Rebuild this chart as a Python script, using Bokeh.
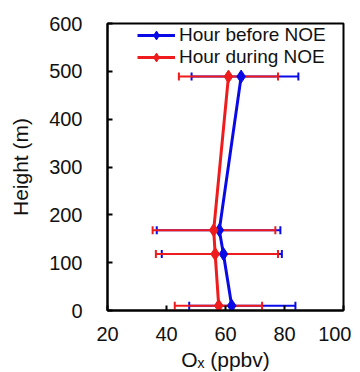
from bokeh.plotting import figure
from bokeh.models import ColumnDataSource, Whisker, TeeHead, Range1d, FixedTicker, Legend, LegendItem
from bokeh.embed import file_html
from bokeh.resources import INLINE

# Data
heights = [10, 118, 168, 489]
ox_before = [62.1, 59.3, 57.9, 65.3]
before_lo = [47.7, 38.4, 36.7, 48.5]
before_hi = [83.7, 79.1, 78.6, 84.7]
ox_during = [57.7, 56.5, 56.0, 61.0]
during_lo = [42.8, 36.4, 35.3, 44.2]
during_hi = [72.4, 77.8, 76.9, 77.8]
x_ticks = [20, 40, 60, 80, 100]
y_ticks = [0, 100, 200, 300, 400, 500, 600]

BLUE = "#0a0ae6"
RED = "#ee1c1c"
FONT = "Liberation Sans"

p = figure(frame_width=236, frame_height=287, output_backend="svg", toolbar_location=None,
           x_range=Range1d(20, 100), y_range=Range1d(0, 600),
           min_border_left=107, min_border_top=23, min_border_right=8, min_border_bottom=54)
p.grid.visible = False
p.outline_line_color = "black"
p.outline_line_width = 2
p.background_fill_color = "white"
p.border_fill_color = "white"

src_b = ColumnDataSource(dict(y=heights, x=ox_before, lo=before_lo, hi=before_hi))
src_d = ColumnDataSource(dict(y=heights, x=ox_during, lo=during_lo, hi=during_hi))

for src, col in ((src_b, BLUE), (src_d, RED)):
    w = Whisker(source=src, base="y", lower="lo", upper="hi", dimension="width",
                line_color=col, line_width=2, level="underlay",
                lower_head=TeeHead(size=8, line_color=col, line_width=2),
                upper_head=TeeHead(size=8, line_color=col, line_width=2))
    p.add_layout(w)

lb = p.line("x", "y", source=src_b, line_color=BLUE, line_width=3)
mb = p.scatter("x", "y", source=src_b, marker="diamond", size=13, fill_color=BLUE, line_color=BLUE)
ld = p.line("x", "y", source=src_d, line_color=RED, line_width=3)
md = p.scatter("x", "y", source=src_d, marker="diamond", size=13, fill_color=RED, line_color=RED)

legend = Legend(items=[LegendItem(label="Hour before NOE", renderers=[lb, mb]),
                       LegendItem(label="Hour during NOE", renderers=[ld, md])],
                location=(30, 242), border_line_color=None, background_fill_alpha=0,
                padding=0, margin=0, spacing=0, label_height=22, glyph_height=22,
                glyph_width=38, label_standoff=4,
                label_text_font=FONT, label_text_font_size="19px", label_text_color="#111111")
p.add_layout(legend)

p.xaxis.ticker = FixedTicker(ticks=x_ticks)
p.yaxis.ticker = FixedTicker(ticks=y_ticks)
for ax in (p.xaxis, p.yaxis):
    ax.major_tick_in = 5
    ax.major_tick_out = 0
    ax.minor_tick_in = 0
    ax.minor_tick_out = 0
    ax.axis_line_width = 2
    ax.major_tick_line_width = 2
    ax.major_label_text_font = FONT
    ax.major_label_text_font_size = "20px"
    ax.major_label_text_color = "#111111"
    ax.axis_label_text_font = FONT
    ax.axis_label_text_font_size = "21px"
    ax.axis_label_text_font_style = "normal"
    ax.axis_label_text_color = "#111111"

p.xaxis.axis_label = "Oₓ (ppbv)"
p.yaxis.axis_label = "Height (m)"
p.xaxis.major_label_standoff = 16
p.yaxis.major_label_standoff = 25
p.xaxis.axis_label_standoff = 4
p.yaxis.axis_label_standoff = 14

open("out.html", "w").write(file_html(p, INLINE))
